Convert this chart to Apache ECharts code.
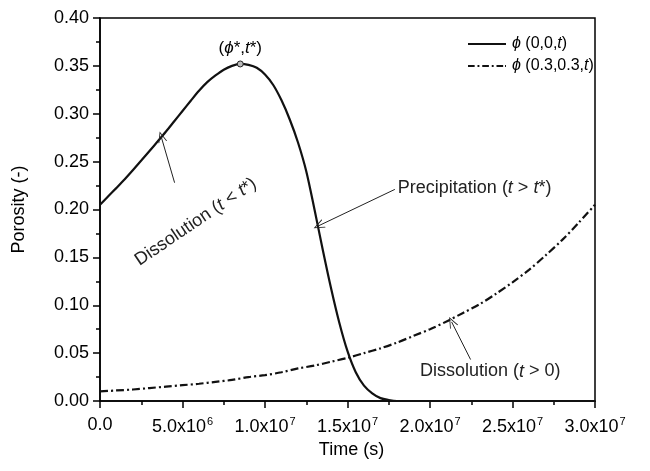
<!DOCTYPE html>
<html>
<head>
<meta charset="utf-8">
<script src="https://cdn.jsdelivr.net/npm/echarts@6/dist/echarts.min.js"></script>
<style>html,body{margin:0;padding:0;background:#fff}#c{width:650px;height:471px}</style>
</head>
<body>
<div id="c"></div>
<script>
// Time in units of 1e6 s
var tSolid = [0,0.5,1,1.5,2,2.5,3,3.5,4,4.5,5,5.5,6,6.5,7,7.5,8,8.5,9,9.5,10,10.5,11,11.5,12,12.5,13,13.5,14,14.5,15,15.5,16,16.5,17,17.5,18,20,22,24,26,28,30];
var phiSolid = [0.205,0.2138,0.2226,0.2316,0.2412,0.2511,0.2611,0.2712,0.2815,0.2922,0.3029,0.3136,0.324,0.333,0.340,0.346,0.350,0.352,0.351,0.348,0.341,0.330,0.314,0.294,0.270,0.240,0.200,0.158,0.118,0.082,0.052,0.030,0.016,0.008,0.003,0.001,0,0,0,0,0,0,0];
var tDash = [0,1,2,3,4,5,6,7,8,9,10,11,12,13,14,15,16,17,18,19,20,21,22,23,24,25,26,27,28,29,30];
var phiDash = [0.010,0.011,0.012,0.0135,0.015,0.0165,0.018,0.020,0.022,0.025,0.027,0.030,0.034,0.037,0.041,0.045,0.050,0.055,0.061,0.068,0.075,0.083,0.092,0.101,0.112,0.124,0.137,0.152,0.168,0.186,0.205];
var seriesNames = ['phi(0,0,t)', 'phi(0.3,0.3,t)'];
var legendLabels = ['{i|\u03d5} (0,0,{i|t})', '{i|\u03d5} (0.3,0.3,{i|t})'];
var legendIcons = [
  'path://M0,0H40V2H0Z',
  'path://M0,0H7V2H0Z M10,0H12V2H10Z M15,0H22V2H15Z M25,0H27V2H25Z M30,0H37V2H30Z M39,0H40V2H39Z'
];
var peak = {t: 8.5, phi: 0.352, label: '({i|\u03d5}*,{i|t}*)'};
// annotations: [tailT, tailPhi, tipT, tipPhi], text anchor [t, phi]
var annotations = [
  {arrow: [4.52, 0.228, 3.71, 0.276], text: 'Dissolution ({i|t} < {i|t}*)', at: [5.80, 0.187], rot: 34, align: 'center'},
  {arrow: [17.87, 0.221, 13.25, 0.183], text: 'Precipitation ({i|t} > {i|t}*)', at: [18.05, 0.2227], rot: 0, align: 'left'},
  {arrow: [22.46, 0.0433, 21.31, 0.0826], text: 'Dissolution ({i|t} > 0)', at: [19.39, 0.0308], rot: 0, align: 'left'}
];
var SCALE = 1e6;

function zip(a, b) { return a.map(function (v, i) { return [v * SCALE, b[i]]; }); }
var FONT = 'Liberation Sans, Arial, sans-serif';
var arrowPath = 'path://M0,0 L5,10 L4,10 L0,2 L-4,10 L-5,10 Z';
function richItalic(size) { return {i: {fontStyle: 'italic', fontFamily: FONT, fontSize: size, color: '#000'}}; }

var chart = echarts.init(document.getElementById('c'));
var markLines = annotations.map(function (a) {
  return [
    {coord: [a.arrow[0] * SCALE, a.arrow[1]], symbol: 'none'},
    {coord: [a.arrow[2] * SCALE, a.arrow[3]], symbol: arrowPath, symbolSize: [9, 11]}
  ];
});

var option = {
  animation: false,
  backgroundColor: '#fff',
  grid: {left: 100, right: 55, top: 18, bottom: 70, show: true, borderColor: '#000', borderWidth: 1.5, backgroundColor: 'transparent'},
  legend: {
    orient: 'vertical', left: 463, top: 31, itemWidth: 38, itemHeight: 2, itemGap: 6,
    data: seriesNames.map(function (n, i) { return {name: n, icon: legendIcons[i], itemStyle: {color: '#111'}}; }),
    formatter: function (n) { return legendLabels[seriesNames.indexOf(n)]; },
    textStyle: {fontFamily: FONT, fontSize: 16, color: '#000', rich: richItalic(16), padding: [0, 0, 0, 1]}
  },
  xAxis: {
    type: 'value', min: 0, max: 3e7, interval: 5e6,
    name: 'Time (s)', nameLocation: 'middle', nameGap: 37,
    nameTextStyle: {fontFamily: FONT, fontSize: 18, color: '#000', padding: [0, 0, 0, 8]},
    axisLine: {lineStyle: {color: '#000', width: 1.5}},
    axisTick: {inside: false, length: 7, lineStyle: {color: '#000', width: 1.5}},
    minorTick: {show: true, splitNumber: 2, length: 4, lineStyle: {color: '#000', width: 1.5}},
    splitLine: {show: false},
    axisLabel: {
      color: '#000', fontFamily: FONT, fontSize: 18, margin: 15,
      formatter: function (v) {
        if (v === 0) return '0.0';
        var e = Math.floor(Math.log10(v) + 1e-9);
        var m = v / Math.pow(10, e);
        return '{a|' + m.toFixed(1) + 'x10}{s|' + e + '}';
      },
      rich: {a: {fontFamily: FONT, fontSize: 18, color: '#000'}, s: {fontFamily: FONT, fontSize: 11, color: '#000', padding: [0, 0, 11, 1]}}
    }
  },
  yAxis: {
    type: 'value', min: 0, max: 0.4, interval: 0.05,
    name: 'Porosity (-)', nameLocation: 'middle', nameGap: 72, nameRotate: 90,
    nameTextStyle: {fontFamily: FONT, fontSize: 18, color: '#000'},
    axisLine: {show: true, lineStyle: {color: '#000', width: 1.5}},
    axisTick: {show: true, inside: false, length: 7, lineStyle: {color: '#000', width: 1.5}},
    minorTick: {show: true, splitNumber: 2, length: 4, lineStyle: {color: '#000', width: 1.5}},
    splitLine: {show: false},
    axisLabel: {color: '#000', fontFamily: FONT, fontSize: 18, margin: 11, formatter: function (v) { return v.toFixed(2); }}
  },
  series: [
    {
      name: seriesNames[0], type: 'line', data: zip(tSolid, phiSolid),
      showSymbol: false, symbol: 'none', smooth: 0.3,
      lineStyle: {color: '#111', width: 2.2}, itemStyle: {color: '#111'}, z: 3,
      markPoint: {
        symbol: 'circle', symbolSize: 6,
        itemStyle: {color: '#bbb', borderColor: '#222', borderWidth: 1},
        label: {show: true, position: 'top', distance: 4, formatter: peak.label, fontFamily: FONT, fontSize: 17, color: '#000', rich: richItalic(17)},
        data: [{coord: [peak.t * SCALE, peak.phi]}]
      },
      markLine: {
        silent: true, animation: false, label: {show: false},
        lineStyle: {color: '#222', width: 1, type: 'solid'},
        data: markLines
      }
    },
    {
      name: seriesNames[1], type: 'line', data: zip(tDash, phiDash),
      showSymbol: false, symbol: 'none', smooth: 0.3,
      lineStyle: {color: '#111', width: 2.2, type: [8, 3, 2, 3]}, itemStyle: {color: '#111'}, z: 3
    }
  ]
};
chart.setOption(option);

var graphics = annotations.map(function (a) {
  var p = chart.convertToPixel({gridIndex: 0}, [a.at[0] * SCALE, a.at[1]]);
  return {
    type: 'text', x: p[0], y: p[1], rotation: a.rot * Math.PI / 180,
    style: {
      text: a.text, fontFamily: FONT, fontSize: 18, fill: '#222',
      align: a.align, verticalAlign: 'middle', rich: richItalic(18)
    }
  };
});
chart.setOption({graphic: graphics});
</script>
</body>
</html>
